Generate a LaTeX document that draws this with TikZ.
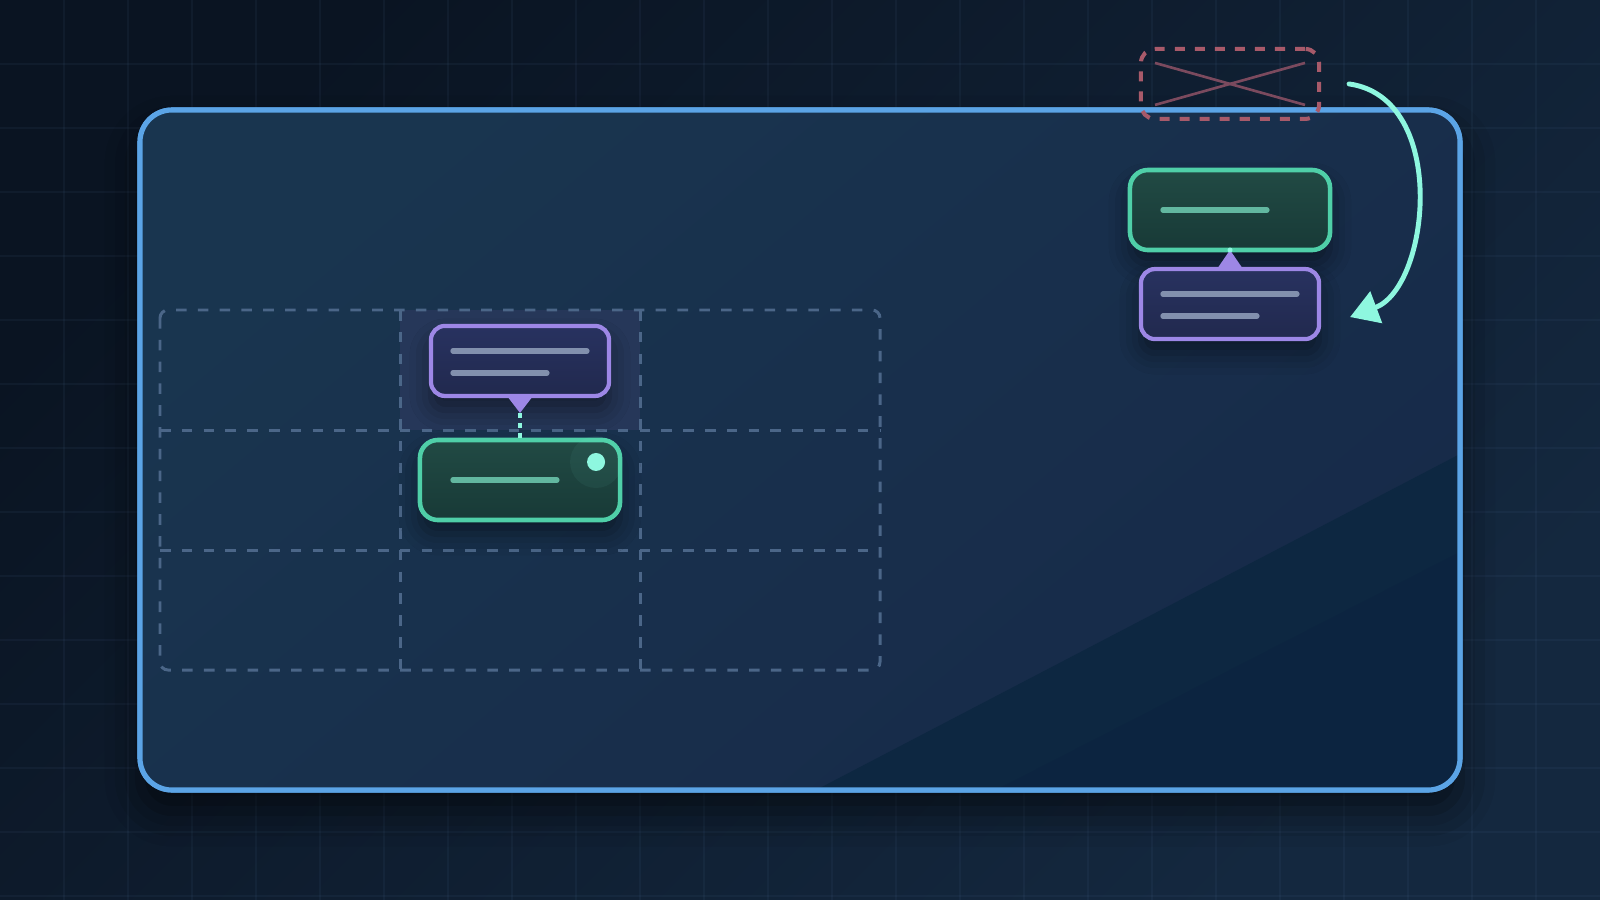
\documentclass[tikz,border=0pt]{standalone}
\usepackage{tikz}
\usepackage{xcolor}
\usetikzlibrary{calc,positioning,arrows.meta,shadows.blur}

\definecolor{bgdark}{HTML}{0A1422}
\definecolor{bglight}{HTML}{14283F}
\definecolor{gridc}{HTML}{5A7CA8}
\definecolor{frameblue}{HTML}{5BA4E6}
\definecolor{panelA}{HTML}{19354F}
\definecolor{panelB}{HTML}{172A49}
\definecolor{panelC}{HTML}{0D2741}
\definecolor{panelD}{HTML}{0C2440}
\definecolor{cellline}{HTML}{4B6688}
\definecolor{cellhi}{HTML}{263759}
\definecolor{violet}{HTML}{9D87E6}
\definecolor{violetA}{HTML}{283260}
\definecolor{violetB}{HTML}{21294E}
\definecolor{violettext}{HTML}{8290AD}
\definecolor{mint}{HTML}{4FCFA8}
\definecolor{mintA}{HTML}{214A44}
\definecolor{mintB}{HTML}{183A37}
\definecolor{minttext}{HTML}{62B7A0}
\definecolor{aqua}{HTML}{8EF7DF}
\definecolor{ghostred}{HTML}{A85A6A}
\definecolor{ghostx}{HTML}{7B4A5E}

\tikzset{
  gridline/.style={ % faint background grid
    gridc, line width=0.35pt, opacity=0.08
  },
  frame/.style={ % outer panel
    draw=frameblue, line width=1.45pt, rounded corners=0.32cm
  },
  cellguide/.style={ % dashed layout cells
    draw=cellline, line width=0.85pt, dash pattern=on 3pt off 3.2pt
  },
  card/.style={ % green card
    draw=mint, line width=1.3pt, rounded corners=0.18cm,
    minimum width=2cm, minimum height=0.8cm, inner sep=0pt, outer sep=0pt,
    top color=mintA, bottom color=mintB,
    blur shadow={shadow xshift=0pt, shadow yshift=-4pt,
      shadow blur radius=6pt, shadow opacity=45}
  },
  bubble/.style={ % violet bubble
    draw=violet, line width=1.2pt, rounded corners=0.14cm,
    minimum width=1.78cm, minimum height=0.7cm, inner sep=0pt, outer sep=0pt,
    top color=violetA, bottom color=violetB,
    blur shadow={shadow xshift=0pt, shadow yshift=-4pt,
      shadow blur radius=6pt, shadow opacity=45}
  },
  ghost/.style={ % dashed place the bubble came from
    draw=ghostred, line width=1.15pt, rounded corners=0.14cm,
    dash pattern=on 2.85pt off 2.85pt,
    minimum width=1.78cm, minimum height=0.7cm, inner sep=0pt, outer sep=0pt
  },
  bar/.style={line width=1.5pt, line cap=round},
  dotlink/.style={aqua, line width=0.9pt, dash pattern=on 1.4pt off 1.4pt},
  flow/.style={aqua, line width=1.4pt, line cap=round,
    -{Triangle[length=0.28cm, width=0.33cm]}}
}

\begin{document}
\begin{tikzpicture}[x=0.01cm, y=-0.01cm]
  \useasboundingbox (0,0) rectangle (1600,900);

  % backdrop
  \shade[shading=axis, top color=bgdark, bottom color=bglight, shading angle=45]
    (0,0) rectangle (1600,900);
  \foreach \i in {1,...,24} \draw[gridline] (64*\i,0) -- (64*\i,900);
  \foreach \j in {1,...,14} \draw[gridline] (0,64*\j) -- (1600,64*\j);

  % panel
  \path[frame, fill=panelB, blur shadow={shadow xshift=0pt, shadow yshift=-6pt,
      shadow blur radius=10pt, shadow opacity=60}] (140,110) rectangle (1460,790);
  \begin{scope}
    \clip[rounded corners=0.32cm] (140,110) rectangle (1460,790);
    \shade[shading=axis, top color=panelA, bottom color=panelB, shading angle=40]
      (140,110) rectangle (1460,790);
    \fill[panelC] (816,790) -- (1460,454) -- (1460,790) -- cycle;
    \fill[panelD] (996,790) -- (1460,552) -- (1460,790) -- cycle;
  \end{scope}
  \draw[frame] (140,110) rectangle (1460,790);

  % layout cells
  \fill[cellhi] (400,310) rectangle (640,430);
  \draw[cellguide, rounded corners=0.08cm] (160,310) rectangle (880,670);
  \foreach \cx in {400,640} \draw[cellguide] (\cx,310) -- (\cx,670);
  \foreach \cy in {430,550} \draw[cellguide] (160,\cy) -- (880,\cy);

  % left pair
  \node[card] (g1) at (520,480) {};
  \node[bubble, above=0.44cm of g1] (p1) {};
  \draw[bar, violettext] ($(p1.north west)+(22,25)$) -- ++(134,0);
  \draw[bar, violettext] ($(p1.north west)+(22,47)$) -- ++(94,0);
  \draw[bar, minttext] ($(g1.west)+(33,0)$) -- ++(104,0);
  \fill[aqua, opacity=0.05] ($(g1.north east)+(-24,22)$) circle (26);
  \fill[aqua] ($(g1.north east)+(-24,22)$) circle (9);
  \coordinate (p1tip) at ($(p1.south)+(0,17)$);
  \fill[violet] ($(p1.south)+(-13,0)$) -- ($(p1.south)+(13,0)$) -- (p1tip) -- cycle;
  \draw[dotlink] (p1tip) -- (g1.north);

  % right pair
  \node[card] (g2) at (1230,210) {};
  \node[bubble, below=0.19cm of g2] (p2) {};
  \node[ghost, above=0.51cm of g2] (old) {};
  \draw[bar, minttext] ($(g2.west)+(33,0)$) -- ++(104,0);
  \draw[bar, violettext] ($(p2.north west)+(22,25)$) -- ++(134,0);
  \draw[bar, violettext] ($(p2.north west)+(22,47)$) -- ++(94,0);
  \fill[violet] ($(p2.north)+(-13,0)$) -- ($(p2.north)+(13,0)$) -- (g2.south) -- cycle;
  \fill[aqua] (g2.south) circle (2.5);
  \draw[ghostx, line width=0.75pt] ($(old.center)+(-75,-21)$) -- ($(old.center)+(75,21)$);
  \draw[ghostx, line width=0.75pt] ($(old.center)+(-75,21)$) -- ($(old.center)+(75,-21)$);

  % move arrow
  \coordinate (arrS) at ($(old.east)+(30,0)$);
  \coordinate (arrE) at ($(p2.east)+(31,13)$);
  \draw[flow] (arrS) .. controls +(100,14) and +(80,-30) .. (arrE);
\end{tikzpicture}
\end{document}
